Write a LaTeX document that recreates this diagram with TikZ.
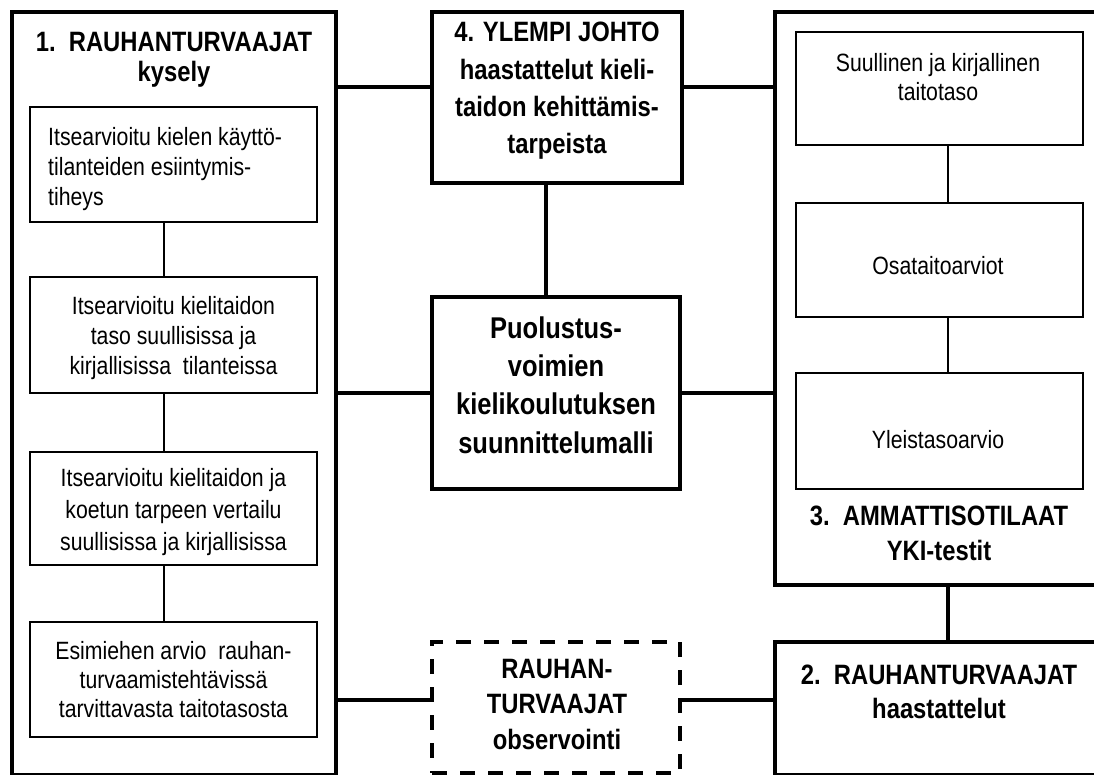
\documentclass[tikz,border=0pt]{standalone}
\usepackage{fontspec}
\setmainfont{Liberation Sans}[FakeStretch=0.85]
\newcommand\mytitlefont{\bfseries\fontsize{28}{35}\selectfont}
\newcommand\mybodyfont{\fontsize{25}{30}\selectfont}
\begin{document}
\begin{tikzpicture}[x=1pt,y=-1pt,
  bigbox/.style={draw, line width=4.5pt, inner sep=0pt},
  midbox/.style={draw, line width=4pt, inner sep=0pt},
  smallbox/.style={draw, line width=2.2pt, inner sep=0pt, minimum width=287pt},
  dbox/.style={draw, line width=4.5pt, dash pattern=on 15pt off 13pt, inner sep=0pt},
  thicklink/.style={line width=4pt},
  thinlink/.style={line width=2.2pt},
  titletext/.style={inner sep=0pt, align=center, font=\mytitlefont},
  bodytext/.style={inner sep=0pt, align=center, font=\mybodyfont},
]
\useasboundingbox (0,0) rectangle (1094,774);
\fill[white] (0,0) rectangle (1094,774);

% ---- outer boxes
\node[bigbox, minimum width=324pt, minimum height=763pt] (lbox) at (174,393.5) {};
\node[bigbox, minimum width=328pt, minimum height=573pt] (rbox) at (939,298.5) {};
\node[bigbox, minimum width=328pt, minimum height=133pt] (ibox) at (939,708.5) {};
\node[midbox, minimum width=250pt, minimum height=171pt] (ylempi) at (557,97.5) {};
\node[midbox, minimum width=248pt, minimum height=192pt] (model) at (556,393) {};
\node[dbox, minimum width=248pt, minimum height=131pt] (obs) at (556,707.5) {};

% ---- left inner boxes
\node[smallbox, minimum height=115pt] (b1) at (173.5,164.5) {};
\node[smallbox, minimum height=116pt] (b2) at (173.5,335) {};
\node[smallbox, minimum height=113pt] (b3) at (173.5,508.5) {};
\node[smallbox, minimum height=115pt] (b4) at (173.5,679.5) {};

% ---- right inner boxes
\node[smallbox, minimum height=113pt] (ra) at (939.5,88.5) {};
\node[smallbox, minimum height=114pt] (rb) at (939.5,260) {};
\node[smallbox, minimum height=116pt] (rc) at (939.5,431) {};

% ---- texts
\node[titletext, font=\bfseries\fontsize{28}{30}\selectfont] (t1) at (174,60) {1.\ \ RAUHANTURVAAJAT\\kysely};
\node[titletext, font=\bfseries\fontsize{28}{37.3}\selectfont] (t4) at (557,91) {4. YLEMPI JOHTO\\haastattelut kieli-\\taidon kehittämis-\\tarpeista};
\node[titletext, font=\bfseries\fontsize{30}{38.3}\selectfont] (tm) at (556,385) {Puolustus-\\voimien\\kielikoulutuksen\\suunnittelumalli};
\node[titletext] (t3) at (939,533) {3.\ \ AMMATTISOTILAAT\\YKI-testit};
\node[titletext, font=\bfseries\fontsize{28}{34}\selectfont] (t2) at (939,692) {2.\ \ RAUHANTURVAAJAT\\haastattelut};
\node[titletext, font=\bfseries\fontsize{28}{35.5}\selectfont] (to) at (557,704) {RAUHAN-\\TURVAAJAT\\observointi};

\node[bodytext, align=left, anchor=west] (tb1) at (48,169) {Itsearvioitu kielen käyttö-\\tilanteiden esiintymis-\\tiheys};
\node[bodytext] (tb2) at (173.5,338.5) {Itsearvioitu kielitaidon\\taso suullisissa ja\\kirjallisissa\ \ tilanteissa};
\node[bodytext, font=\fontsize{25}{31.7}\selectfont] (tb3) at (173.5,512) {Itsearvioitu kielitaidon ja\\koetun tarpeen vertailu\\suullisissa ja kirjallisissa};
\node[bodytext, font=\fontsize{25}{29}\selectfont] (tb4) at (173.5,680) {Esimiehen arvio\ \ rauhan-\\turvaamistehtävissä\\tarvittavasta\ taitotasosta};

\node[bodytext, font=\fontsize{25}{28.3}\selectfont] (tra) at (938,77) {Suullinen ja kirjallinen\\taitotaso};
\node[bodytext] (trb) at (938,266) {Osataitoarviot};
\node[bodytext] (trc) at (938,440) {Yleistasoarvio};

% ---- connectors
\coordinate (h1) at (0,87);
\coordinate (h3) at (0,700);
\draw[thicklink] (lbox.east |- h1) -- (ylempi.west |- h1);
\draw[thicklink] (ylempi.east |- h1) -- (rbox.west |- h1);
\draw[thicklink] (lbox.east |- model.west) -- (model.west);
\draw[thicklink] (model.east) -- (rbox.west |- model.east);
\draw[thicklink] (lbox.east |- h3) -- (obs.west |- h3);
\draw[thicklink] (obs.east |- h3) -- (ibox.west |- h3);
\draw[thicklink] ([xshift=-11pt]ylempi.south) -- ([xshift=-10pt]model.north);
\draw[thicklink] ([xshift=9pt]rbox.south) -- ([xshift=9pt]ibox.north);

\draw[thinlink] ([xshift=-9.5pt]b1.south) -- ([xshift=-9.5pt]b2.north);
\draw[thinlink] ([xshift=-9.5pt]b2.south) -- ([xshift=-9.5pt]b3.north);
\draw[thinlink] ([xshift=-9.5pt]b3.south) -- ([xshift=-9.5pt]b4.north);
\draw[thinlink] ([xshift=8.5pt]ra.south) -- ([xshift=8.5pt]rb.north);
\draw[thinlink] ([xshift=8.5pt]rb.south) -- ([xshift=8.5pt]rc.north);
\end{tikzpicture}
\end{document}
